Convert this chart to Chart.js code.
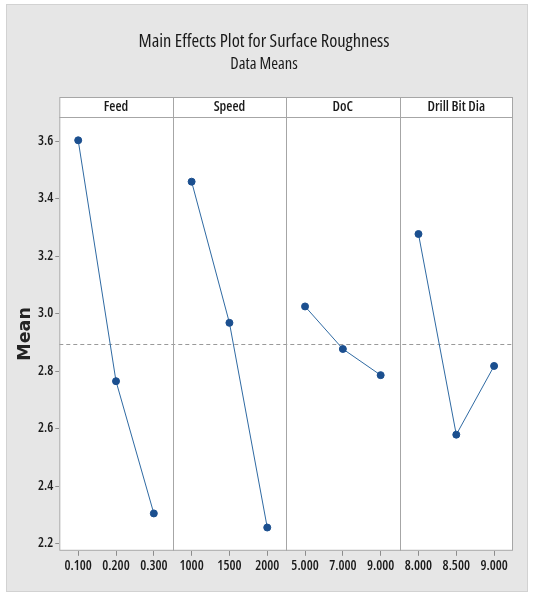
<!DOCTYPE html>
<html>
<head>
<meta charset="utf-8">
<script src="https://cdn.jsdelivr.net/npm/chart.js@4.4.1/dist/chart.umd.min.js"></script>
<style>
  body { margin: 0; background: #ffffff; }
  #wrap {
    position: absolute; left: 6px; top: 4px;
    width: 522px; height: 588px; box-sizing: border-box;
    background: #e6e6e6; border: 1px solid #d2d2d2;
  }
</style>
</head>
<body>
<div id="wrap"><canvas id="mainfx"></canvas></div>
<script>
// factors and their levels
const factors = ["Feed", "Speed", "DoC", "Drill Bit Dia"];
const feedLevels = ["0.100", "0.200", "0.300"];
const speedLevels = ["1000", "1500", "2000"];
const docLevels = ["5.000", "7.000", "9.000"];
const drillLevels = ["8.000", "8.500", "9.000"];

// mean surface roughness at each level
const feedMeans = [3.603, 2.765, 2.305];
const speedMeans = [3.459, 2.968, 2.256];
const docMeans = [3.025, 2.877, 2.786];
const drillMeans = [3.277, 2.579, 2.818];

const yTicks = [2.2, 2.4, 2.6, 2.8, 3.0, 3.2, 3.4, 3.6];

const levelsList = [feedLevels, speedLevels, docLevels, drillLevels];
const meansList = [feedMeans, speedMeans, docMeans, drillMeans];

// grand mean = reference line
let allvals = [].concat(...meansList);
const grandMean = allvals.reduce((a, b) => a + b, 0) / allvals.length;

// narrow font: Open Sans with condensed stretch (goes in the weight slot of the font string)
const narrow = "'Open Sans', 'DejaVu Sans Condensed', sans-serif";
const frameCol = "#a6a6a6";
const lineCol = "#2f6aa3";
const dotCol = "#1b4f8f";
const txtCol = "#1a1a1a";

// one bottom axis per factor, stacked side by side
const scales = {};
factors.forEach((f, i) => {
  scales["x" + i] = {
    type: "category",
    labels: levelsList[i],
    position: "bottom",
    stack: "panels",
    offset: true,
    grid: { display: true, drawOnChartArea: false, offset: false, tickLength: 5, color: "#8c8c8c" },
    border: { display: false },
    ticks: { font: { family: narrow, size: 13.5, weight: "600 condensed" }, color: txtCol, padding: 2, maxRotation: 0, autoSkip: false },
  };
});
scales.y = {
  type: "linear",
  position: "left",
  min: 2.175,
  max: 3.684,
  afterBuildTicks: (axis) => { axis.ticks = yTicks.map((v) => ({ value: v })); },
  grid: { display: true, drawOnChartArea: false, tickLength: 4, color: "#8c8c8c" },
  border: { display: false },
  ticks: { font: { family: narrow, size: 13.5, weight: "600 condensed" }, color: txtCol, padding: 2, callback: (v) => v.toFixed(1) },
  title: { display: true, text: "Mean", font: { family: "'DejaVu Sans', sans-serif", size: 17.5, weight: "bold" }, color: "#222", padding: { top: 0, bottom: 0 } },
};

const datasets = factors.map((f, i) => ({
  label: f,
  data: meansList[i],
  xAxisID: "x" + i,
  yAxisID: "y",
  borderColor: lineCol,
  borderWidth: 1,
  backgroundColor: dotCol,
  pointBackgroundColor: dotCol,
  pointBorderColor: dotCol,
  pointRadius: 3.5,
  tension: 0,
}));

// white plot area, panel frames, strip headers and mean line
const stripH = 20;
const panelPlugin = {
  id: "panels",
  beforeDraw(chart) {
    const a = chart.chartArea;
    const c = chart.ctx;
    c.save();
    c.fillStyle = "#ffffff";
    c.fillRect(a.left, a.top - stripH, a.right - a.left, a.bottom - a.top + stripH);
    c.restore();
  },
  beforeDatasetsDraw(chart) {
    const a = chart.chartArea;
    const c = chart.ctx;
    const y = chart.scales.y.getPixelForValue(grandMean);
    c.save();
    c.strokeStyle = "#9a9a9a";
    c.lineWidth = 1;
    c.setLineDash([4, 3]);
    c.beginPath();
    c.moveTo(a.left, Math.round(y) + 0.5);
    c.lineTo(a.right, Math.round(y) + 0.5);
    c.stroke();
    c.restore();
  },
  afterDraw(chart) {
    const a = chart.chartArea;
    const c = chart.ctx;
    c.save();
    c.strokeStyle = frameCol;
    c.lineWidth = 1;
    c.strokeRect(a.left + 0.5, a.top - stripH + 0.5, a.right - a.left - 1, a.bottom - a.top + stripH - 1);
    c.beginPath();
    c.moveTo(a.left, a.top + 0.5);
    c.lineTo(a.right, a.top + 0.5);
    factors.forEach((f, i) => {
      if (i === 0) return;
      const x = Math.round(chart.scales["x" + i].left) + 0.5;
      c.moveTo(x, a.top - stripH);
      c.lineTo(x, a.bottom);
    });
    c.stroke();
    c.fillStyle = txtCol;
    c.font = "600 condensed 14px " + narrow;
    c.textAlign = "center";
    c.textBaseline = "middle";
    factors.forEach((f, i) => {
      const s = chart.scales["x" + i];
      c.fillText(f, (s.left + s.right) / 2, a.top - stripH / 2);
    });
    c.restore();
  },
};

new Chart(document.getElementById("mainfx"), {
  type: "line",
  data: { datasets: datasets },
  options: {
    responsive: true,
    maintainAspectRatio: false,
    animation: false,
    layout: { padding: { left: 8, right: 14, top: 0, bottom: 15 } },
    scales: scales,
    plugins: {
      legend: { display: false },
      tooltip: { enabled: false },
      title: {
        display: true,
        text: "Main Effects Plot for Surface Roughness",
        font: { family: narrow, size: 18.5, weight: "500 condensed" },
        color: txtCol,
        padding: { top: 26, bottom: 1 },
      },
      subtitle: {
        display: true,
        text: "Data Means",
        font: { family: narrow, size: 16.5, weight: "500 condensed" },
        color: txtCol,
        padding: { top: 0, bottom: 43 },
      },
    },
  },
  plugins: [panelPlugin],
});
</script>
</body>
</html>
